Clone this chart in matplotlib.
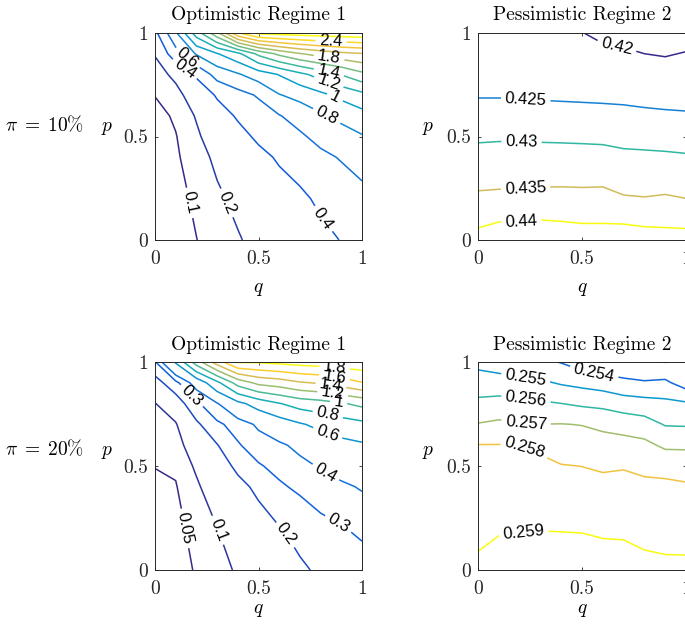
#!/usr/bin/env python3
"""
plot.py -- contour maps over (q, p) for pi = 10% and pi = 20%,
optimistic regime 1 (left) vs pessimistic regime 2 (right).
Writes out.png
"""
import numpy as np
import matplotlib
matplotlib.use("Agg")
import matplotlib.pyplot as plt
from matplotlib.colors import LinearSegmentedColormap, Normalize

# ---------- grid ----------
q_grid = [0.0, 0.1, 0.2, 0.3, 0.4, 0.5, 0.6, 0.7, 0.8, 0.9, 1.0]
p_grid_fine = [0.0, 0.2, 0.4, 0.5, 0.6, 0.7, 0.8, 0.9, 1.0]
p_grid_coarse = [0.0, 0.2, 0.4, 0.6, 0.8, 1.0]

# ---------- values (rows = p, columns = q) ----------
opt_10 = [
    [0.005, 0.052, 0.098, 0.145, 0.19, 0.235, 0.28, 0.32, 0.36, 0.405, 0.45],
    [0.012, 0.065, 0.12, 0.18, 0.229, 0.278, 0.327, 0.37, 0.428, 0.484, 0.54],
    [0.03, 0.085, 0.155, 0.225, 0.29, 0.355, 0.42, 0.47, 0.555, 0.615, 0.68],
    [0.045, 0.095, 0.18, 0.27, 0.345, 0.43, 0.51, 0.57, 0.66, 0.72, 0.785],
    [0.065, 0.115, 0.21, 0.32, 0.42, 0.51, 0.59, 0.68, 0.77, 0.85, 0.93],
    [0.103, 0.16, 0.27, 0.42, 0.53, 0.62, 0.79, 0.86, 0.95, 1.05, 1.14],
    [0.15, 0.23, 0.43, 0.68, 0.78, 0.90, 1.01, 1.15, 1.28, 1.41, 1.55],
    [0.208, 0.52, 0.82, 0.99, 1.15, 1.45, 1.65, 1.79, 1.88, 1.95, 1.99],
    [0.35, 0.77, 1.3, 1.75, 2.38, 2.65, 2.68, 2.7, 2.72, 2.74, 2.76],
]

pes_10 = [
    [0.44172, 0.44311, 0.44321, 0.44351, 0.44300, 0.44250, 0.44241, 0.44289, 0.44227, 0.44194, 0.44190],
    [0.43580, 0.43596, 0.43607, 0.43627, 0.43633, 0.43625, 0.43639, 0.43538, 0.43518, 0.43548, 0.43502],
    [0.43155, 0.43171, 0.43173, 0.43170, 0.43167, 0.43160, 0.43150, 0.43097, 0.43085, 0.43070, 0.43045],
    [0.42707, 0.42719, 0.42711, 0.42697, 0.42684, 0.42671, 0.42655, 0.42628, 0.42600, 0.42575, 0.42557],
    [0.42226, 0.42210, 0.42183, 0.42172, 0.42158, 0.42145, 0.42138, 0.42145, 0.42100, 0.42075, 0.42061],
    [0.42050, 0.42040, 0.42030, 0.42020, 0.42010, 0.42005, 0.41954, 0.41922, 0.41900, 0.41899, 0.41950],
]

opt_20 = [
    [0.003, 0.027, 0.055, 0.08, 0.107, 0.133, 0.16, 0.188, 0.212, 0.235, 0.255],
    [0.015, 0.035, 0.068, 0.099, 0.135, 0.17, 0.195, 0.225, 0.265, 0.293, 0.32],
    [0.035, 0.047, 0.09, 0.14, 0.18, 0.215, 0.285, 0.32, 0.36, 0.38, 0.41],
    [0.052, 0.057, 0.11, 0.165, 0.215, 0.29, 0.33, 0.37, 0.41, 0.45, 0.48],
    [0.065, 0.075, 0.14, 0.195, 0.29, 0.35, 0.38, 0.43, 0.49, 0.54, 0.575],
    [0.08, 0.095, 0.18, 0.28, 0.34, 0.42, 0.5, 0.58, 0.65, 0.71, 0.75],
    [0.098, 0.14, 0.28, 0.39, 0.55, 0.68, 0.79, 0.88, 0.92, 0.98, 1.05],
    [0.155, 0.27, 0.46, 0.75, 1.08, 1.25, 1.3, 1.38, 1.42, 1.5, 1.59],
    [0.29, 0.62, 1.1, 1.5, 1.82, 1.82, 1.85, 1.88, 1.9, 1.92, 1.94],
]

pes_20 = [
    [0.25917, 0.25937, 0.25943, 0.25948, 0.25956, 0.25956, 0.25947, 0.25942, 0.25926, 0.25919, 0.25919],
    [0.25879, 0.25892, 0.25895, 0.25897, 0.25895, 0.25893, 0.25885, 0.25884, 0.25872, 0.25868, 0.25866],
    [0.25841, 0.25848, 0.25848, 0.25846, 0.25834, 0.25830, 0.25824, 0.25826, 0.25818, 0.25818, 0.25812],
    [0.25822, 0.25825, 0.25824, 0.25820, 0.25804, 0.25799, 0.25789, 0.25794, 0.25781, 0.25772, 0.25759],
    [0.25803, 0.25803, 0.25801, 0.25783, 0.25755, 0.25749, 0.25739, 0.25736, 0.25725, 0.25682, 0.25683],
    [0.25705, 0.25719, 0.25709, 0.25701, 0.25703, 0.25697, 0.25679, 0.25661, 0.25641, 0.25594, 0.25591],
    [0.25623, 0.25633, 0.25625, 0.25613, 0.25601, 0.25584, 0.25574, 0.25549, 0.25538, 0.25524, 0.25513],
    [0.25546, 0.25543, 0.25530, 0.25517, 0.25490, 0.25472, 0.25453, 0.25425, 0.25410, 0.25420, 0.25352],
    [0.25472, 0.25449, 0.25430, 0.25421, 0.25395, 0.25352, 0.25325, 0.25315, 0.25310, 0.25298, 0.25310],
]

# ---------- contour levels ----------
levels_opt_10 = [0.1, 0.2, 0.4, 0.6, 0.8, 1.0, 1.2, 1.4, 1.6, 1.8, 2.0, 2.2, 2.4, 2.6]
levels_pes_10 = [0.42, 0.425, 0.43, 0.435, 0.44]
levels_opt_20 = [0.05, 0.1, 0.2, 0.3, 0.4, 0.6, 0.8, 1.0, 1.2, 1.4, 1.6, 1.8]
levels_pes_20 = [0.253, 0.254, 0.255, 0.256, 0.257, 0.258, 0.259]

# labelled level and where (q, p) its label sits
labels_opt_10 = [(2.4, 0.85, 0.955), (1.8, 0.84, 0.875), (1.4, 0.84, 0.81),
                 (1.2, 0.84, 0.765), (1.0, 0.87, 0.69), (0.8, 0.83, 0.60),
                 (0.6, 0.15, 0.87), (0.4, 0.14, 0.82), (0.4, 0.81, 0.10),
                 (0.2, 0.35, 0.18), (0.1, 0.17, 0.18)]
labels_pes_10 = [(0.42, 0.67, 0.95), (0.425, 0.23, 0.685), (0.43, 0.21, 0.49),
                 (0.435, 0.23, 0.23), (0.44, 0.21, 0.08)]
labels_opt_20 = [(1.8, 0.87, 0.985), (1.6, 0.87, 0.95), (1.4, 0.85, 0.89),
                 (1.2, 0.86, 0.86), (1.0, 0.89, 0.83), (0.8, 0.84, 0.77),
                 (0.6, 0.84, 0.675), (0.4, 0.83, 0.48), (0.3, 0.18, 0.84),
                 (0.3, 0.89, 0.23), (0.2, 0.63, 0.17), (0.1, 0.30, 0.19),
                 (0.05, 0.145, 0.20)]
labels_pes_20 = [(0.254, 0.56, 0.96), (0.255, 0.23, 0.93), (0.256, 0.23, 0.817),
                 (0.257, 0.23, 0.697), (0.258, 0.22, 0.58), (0.259, 0.22, 0.178)]

# ---------- style ----------
# parula-like colormap (MATLAB default)
PARULA = LinearSegmentedColormap.from_list("parula", [
    "#352a87", "#0f5cdd", "#1481d6", "#06a4ca", "#2eb7a4",
    "#87bf77", "#d1bb59", "#fec832", "#f9fb0e"])

plt.rcParams["font.family"] = "serif"
plt.rcParams["font.serif"] = ["cmr10"]
plt.rcParams["mathtext.fontset"] = "cm"
plt.rcParams["axes.formatter.use_mathtext"] = True

W, H = 685, 624
TEXT_SIZE = 14


def fig_xy(x, y):
    # pixel position (from top-left) -> figure fraction
    return x / W, 1 - y / H


def point_on_level(cs, idx, x, y):
    # closest point to (x, y) on the drawn line(s) of level idx
    best, best_d = (x, y), np.inf
    for poly in cs.get_paths()[idx].to_polygons(closed_only=False):
        if len(poly) < 2:
            continue
        a, b = poly[:-1], poly[1:]
        ab = b - a
        den = (ab ** 2).sum(axis=1)
        den[den == 0] = 1e-12
        t = np.clip(((np.array([x, y]) - a) * ab).sum(axis=1) / den, 0, 1)
        proj = a + t[:, None] * ab
        d = ((proj - [x, y]) ** 2).sum(axis=1)
        i = int(np.argmin(d))
        if d[i] < best_d:
            best, best_d = tuple(proj[i]), d[i]
    return best


def draw_panel(fig, rect, p_grid, z, levels, labels, title):
    ax = fig.add_axes(rect)
    Q, P = np.meshgrid(q_grid, p_grid)
    Z = np.array(z)
    norm = Normalize(vmin=min(levels), vmax=max(levels))
    cs = ax.contour(Q, P, Z, levels=levels, cmap=PARULA, norm=norm,
                    linewidths=1.1)

    # one label per anchor, snapped onto the line of that level
    with plt.rc_context({"font.family": ["Liberation Sans"]}):
        for lev, x, y in labels:
            xy = point_on_level(cs, levels.index(lev), x, y)
            cs.clabel(manual=[xy], inline=True, inline_spacing=4,
                      fontsize=12, colors="k", fmt=lambda v: f"{v:g}")

    ax.set_xlim(0, 1)
    ax.set_ylim(0, 1)
    ax.set_xticks([0, 0.5, 1])
    ax.set_yticks([0, 0.5, 1])
    ax.set_xticklabels(["0", "0.5", "1"])
    ax.set_yticklabels(["0", "0.5", "1"])
    ax.tick_params(direction="in", top=True, right=True, length=2.5,
                   width=0.6, labelsize=TEXT_SIZE, colors="#262626")
    ax.tick_params(axis="x", pad=7)
    ax.tick_params(axis="y", pad=5)
    for s in ax.spines.values():
        s.set_linewidth(0.7)
        s.set_color("#262626")
    ax.set_title(title, fontsize=TEXT_SIZE, pad=9)
    return ax


def main():
    fig = plt.figure(figsize=(W / 100, H / 100), dpi=100)

    left_x, right_x = 155 / W, 478 / W
    w_left, w_right = 207 / W, 208 / W
    top_y, top_h = (H - 240) / H, 207 / H
    bot_y, bot_h = (H - 570) / H, 208 / H

    draw_panel(fig, [left_x, top_y, w_left, top_h], p_grid_fine, opt_10,
               levels_opt_10, labels_opt_10, "Optimistic Regime 1")
    draw_panel(fig, [right_x, top_y, w_right, top_h], p_grid_coarse, pes_10,
               levels_pes_10, labels_pes_10, "Pessimistic Regime 2")
    draw_panel(fig, [left_x, bot_y, w_left, bot_h], p_grid_fine, opt_20,
               levels_opt_20, labels_opt_20, "Optimistic Regime 1")
    draw_panel(fig, [right_x, bot_y, w_right, bot_h], p_grid_fine, pes_20,
               levels_pes_20, labels_pes_20, "Pessimistic Regime 2")

    # row labels and axis letters
    for y_row, pi_txt in [(125, r"$\pi\;=\;10\%$"), (449, r"$\pi\;=\;20\%$")]:
        fig.text(*fig_xy(45, y_row), pi_txt, ha="center", va="center",
                 fontsize=TEXT_SIZE)
        for x_p in (107, 428):
            fig.text(*fig_xy(x_p, y_row + 3), r"$p$", ha="center",
                     va="center", fontsize=TEXT_SIZE)
    for y_q in (289, 610):
        for x_q in (258, 582):
            fig.text(*fig_xy(x_q, y_q), r"$q$", ha="center", va="center",
                     fontsize=TEXT_SIZE)

    fig.savefig("out.png", dpi=100)
    plt.close(fig)


if __name__ == "__main__":
    main()
